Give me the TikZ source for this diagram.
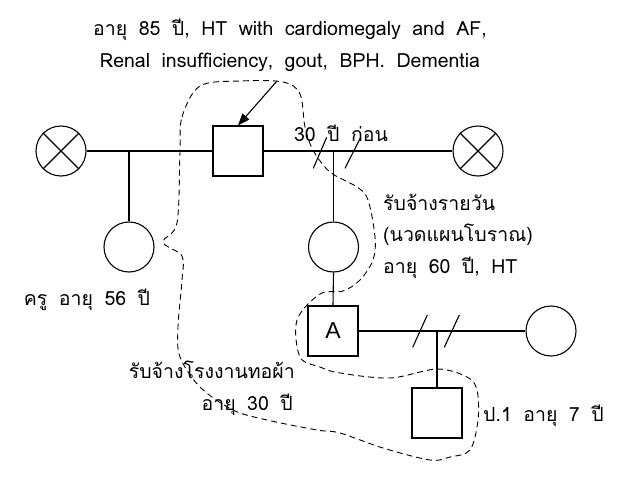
\documentclass[tikz,border=0pt]{standalone}
\usepackage{fontspec}
\setmainfont[Script=Thai]{Loma}
\newfontfamily\latinA{Liberation Sans}
\newcommand\lblfont{\fontsize{19.5}{22}\selectfont\spaceskip=11.5pt plus 1pt minus 1pt\relax}
\usetikzlibrary{arrows.meta}
\begin{document}
\begin{tikzpicture}[x=1pt,y=-1pt,
  ln/.style={line width=1.1pt},
  sq/.style={draw,ln,rectangle,minimum size=50pt,inner sep=0pt},
  ci/.style={draw,ln,circle,minimum size=50pt,inner sep=0pt},
  lbl/.style={font=\lblfont,inner sep=0pt},
  hh/.style={line width=0.9pt,dash pattern=on 6pt off 4pt},
  slashmark/.style={ln}]
\useasboundingbox (0,0) rectangle (637,487);
% top text
\node[lbl,anchor=base] (t1) at (290,36) {อายุ 85 ปี, HT with cardiomegaly and AF,};
\node[lbl,anchor=base] (t2) at (290,67) {Renal insufficiency, gout, BPH. Dementia};
% generation 1
\node[ci] (gfL) at (61,151) {};
\node[sq] (gm) at (238,151) {};
\node[ci] (gfR) at (478,151) {};
\draw[ln] (gfL.45)--(gfL.225) (gfL.135)--(gfL.315);
\draw[ln] (gfR.45)--(gfR.225) (gfR.135)--(gfR.315);
\draw[ln] (gfL.east) -- (gm.west);
\draw[ln] (gm.east) -- (gfR.west);
\coordinate (jL) at (129,151);
\coordinate (jR) at (333.5,151);
\node[ci] (d1) at (129,247) {};
\node[ci] (mom) at (333.5,247) {};
\draw[ln] (jL) -- (d1.north);
\draw[ln] (jR) -- (mom.north);
\coordinate (s1a) at (326.7,137.3); \coordinate (s1b) at (313.3,168.3);
\coordinate (s2a) at (360.7,137.3); \coordinate (s2b) at (345,168.3);
\draw[slashmark] (s1a) -- (s1b);
\draw[slashmark] (s2a) -- (s2b);
% arrow
\coordinate (arS) at (277,81);
\draw[ln,-{Triangle[length=12pt,width=9pt]}] (arS) -- (gm.north);
% generation 2
\node[sq] (A) at (333,331) {\latinA\fontsize{23}{25}\selectfont A};
\node[ci] (w2) at (551,331) {};
\draw[ln] (mom.south) -- (A.north);
\draw[ln] (A.east) -- (w2.west);
\coordinate (jC) at (437,331);
\node[sq] (ch) at (437,413) {};
\draw[ln] (jC) -- (ch.north);
\coordinate (s3a) at (427.3,315); \coordinate (s3b) at (412.7,347.3);
\coordinate (s4a) at (459.3,315); \coordinate (s4b) at (444.3,347.3);
\draw[slashmark] (s3a) -- (s3b);
\draw[slashmark] (s4a) -- (s4b);
% labels
\node[lbl,anchor=base] (l30) at (341,141) {30 ปี ก่อน};
\node[lbl,anchor=base west] (m1) at (383,210) {รับจ้างรายวัน};
\node[lbl,anchor=base west] (m2) at (383,241.5) {(นวดแผนโบราณ)};
\node[lbl,anchor=base west] (m3) at (383,273) {อายุ 60 ปี, HT};
\node[lbl,anchor=base] (dl) at (87,305) {ครู อายุ 56 ปี};
\node[lbl,anchor=base east] (a1) at (295,378.5) {รับจ้างโรงงานทอผ้า};
\node[lbl,anchor=base east] (a2) at (293,410) {อายุ 30 ปี};
\node[lbl,anchor=base west] (cl) at (483,421.5) {ป.1 อายุ 7 ปี};
% household boundary
\draw[hh] plot[smooth cycle,tension=0.55] coordinates {
 (180,152) (182,117) (200,86) (240,81) (283,82) (300,94) (305,127) (313,150)
 (330,172) (357,187) (368,200) (375,237) (373,260) (360,280) (343,291)
 (320,294) (297,320) (300,357) (320,367) (340,373) (390,378) (437,369)
 (467,377) (477,390) (478,420) (470,450) (450,457) (430,460) (383,448)
 (340,433) (317,430) (267,420) (233,410) (200,387) (180,357) (178,327)
 (182,280) (182,256) (163,242) (177,223)};
\end{tikzpicture}
\end{document}
